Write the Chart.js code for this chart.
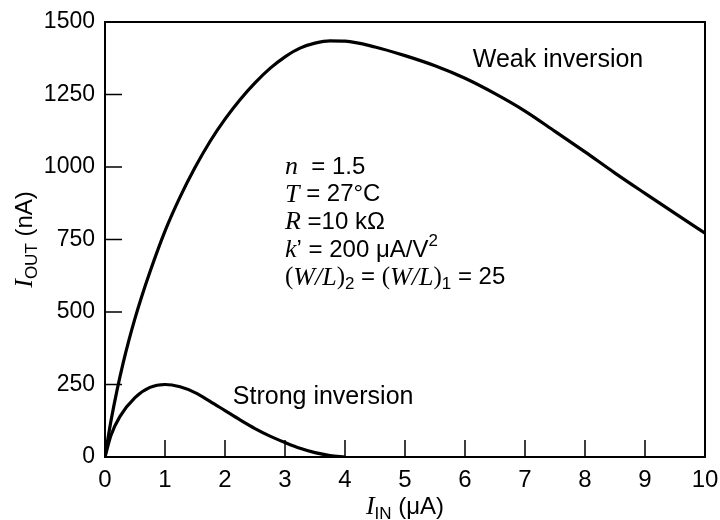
<!DOCTYPE html>
<html>
<head>
<meta charset="utf-8">
<script src="https://cdn.jsdelivr.net/npm/chart.js@4.4.1/dist/chart.umd.min.js"></script>
<style>
  html, body { margin: 0; padding: 0; background: #fff; }
  #wrap { width: 720px; height: 520px; }
</style>
</head>
<body>
<div id="wrap"><canvas id="chart" width="720" height="520"></canvas></div>
<script>
// --- data ---
const xTicks = [0, 1, 2, 3, 4, 5, 6, 7, 8, 9, 10];
const yTicks = [0, 250, 500, 750, 1000, 1250, 1500];

const weakX = [0, 0.05, 0.1, 0.2, 0.3, 0.4, 0.5, 0.6, 0.75, 1, 1.25, 1.5, 1.75, 2, 2.25, 2.5, 2.75,
               3, 3.25, 3.5, 3.75, 4, 4.5, 5, 5.5, 6, 6.5, 7, 7.5, 8, 8.5, 9, 9.5, 10];
const weakY = [0, 65, 125, 230, 322, 404, 478, 546, 639, 779, 896, 998, 1088, 1165, 1232, 1290, 1340,
               1380, 1410, 1427, 1435, 1434, 1414, 1384, 1349, 1306, 1253, 1193, 1123, 1052, 979, 909, 840, 772];

const strongX = [0, 0.1, 0.25, 0.5, 0.75, 1, 1.25, 1.5, 1.75, 2, 2.25, 2.5, 2.75, 3, 3.25, 3.5, 3.75, 4];
const strongY = [0, 75, 140, 205, 240, 250, 242, 222, 192, 160, 128, 98, 72, 50, 30, 15, 5, 0];

const SANS = '"Liberation Sans", Arial, sans-serif';
const SERIF = '"Liberation Serif", "Times New Roman", serif';

// rich text pieces: [text, font, baseline shift]
function drawRich(ctx, parts, x, y, align) {
    let total = 0;
    parts.forEach(p => { ctx.font = p[1]; total += ctx.measureText(p[0]).width; });
    let cx = align === 'center' ? x - total / 2 : x;
    ctx.textBaseline = 'middle';
    ctx.textAlign = 'left';
    parts.forEach(p => {
        ctx.font = p[1];
        ctx.fillText(p[0], cx, y + (p[2] || 0));
        cx += ctx.measureText(p[0]).width;
    });
}

const up = '25px ' + SERIF;
const itI = 'italic 26px ' + SERIF;
const sans = '24px ' + SANS;
const sub = '17px ' + SANS;

const frame = {
    id: 'frame',
    afterDraw(chart) {
        const { ctx, chartArea: a, scales: { x, y } } = chart;
        ctx.save();
        ctx.strokeStyle = '#000';
        ctx.fillStyle = '#000';
        ctx.lineWidth = 2;
        ctx.strokeRect(a.left, a.top, a.right - a.left, a.bottom - a.top);

        // inward tick marks
        ctx.lineWidth = 1.5;
        ctx.beginPath();
        xTicks.forEach(v => {
            const px = x.getPixelForValue(v);
            ctx.moveTo(px, a.bottom);
            ctx.lineTo(px, a.bottom - 17);
        });
        yTicks.forEach(v => {
            const py = y.getPixelForValue(v);
            ctx.moveTo(a.left, py);
            ctx.lineTo(a.left + 17, py);
        });
        ctx.stroke();

        // axis titles
        drawRich(ctx, [['I', itI], ['IN', sub, 7], [' (\u03bcA)', sans]],
            (a.left + a.right) / 2, 507, 'center');
        ctx.save();
        ctx.translate(25, (a.top + a.bottom) / 2);
        ctx.rotate(-Math.PI / 2);
        drawRich(ctx, [['I', itI], ['OUT', sub, 7], [' (nA)', sans]], 0, 0, 'center');
        ctx.restore();

        // curve labels
        drawRich(ctx, [['Weak inversion', '25px ' + SANS]],
            x.getPixelForValue(6.13), y.getPixelForValue(1369), 'left');
        drawRich(ctx, [['Strong inversion', '25px ' + SANS]],
            x.getPixelForValue(2.13), y.getPixelForValue(207), 'left');

        // parameter block
        const px = x.getPixelForValue(3.0);
        const py = y.getPixelForValue(1000);
        const lh = 27.7;
        const lines = [
            [['n', itI], ['  = 1.5', sans]],
            [['T', itI], [' = 27\u00b0C', sans]],
            [['R', itI], [' =10 k\u03a9', sans]],
            [['k', itI], ['\u2019 = 200 \u03bcA/V', sans], ['2', sub, -9]],
            [['(', up], ['W/L', itI], [')', up], ['2', sub, 7], [' = ', sans],
             ['(', up], ['W/L', itI], [')', up], ['1', sub, 7], [' = 25', sans]]
        ];
        lines.forEach((ln, i) => drawRich(ctx, ln, px, py + i * lh, 'left'));
        ctx.restore();
    }
};

const toPts = (xs, ys) => xs.map((v, i) => ({ x: v, y: ys[i] }));

new Chart(document.getElementById('chart'), {
    type: 'line',
    data: {
        datasets: [{
            label: 'Weak inversion',
            data: toPts(weakX, weakY),
            borderColor: '#000',
            borderWidth: 3.2,
            pointRadius: 0,
            cubicInterpolationMode: 'monotone'
        }, {
            label: 'Strong inversion',
            data: toPts(strongX, strongY),
            borderColor: '#000',
            borderWidth: 3.2,
            pointRadius: 0,
            cubicInterpolationMode: 'monotone'
        }]
    },
    options: {
        responsive: false,
        animation: false,
        devicePixelRatio: 1,
        layout: { padding: { top: 22, right: 15, left: 0, bottom: 0 } },
        plugins: {
            legend: { display: false },
            tooltip: { enabled: false }
        },
        scales: {
            x: {
                type: 'linear',
                min: 0, max: 10,
                afterFit(s) { s.height = 63; s.paddingLeft = 0; s.paddingRight = 0; },
                afterBuildTicks(s) { s.ticks = xTicks.map(v => ({ value: v })); },
                grid: { display: false, drawTicks: false },
                border: { display: false },
                ticks: {
                    color: '#000', padding: 9, maxRotation: 0,
                    font: { family: SANS, size: 24 },
                    callback: v => String(v)
                }
            },
            y: {
                min: 0, max: 1500,
                afterFit(s) { s.width = 105; s.paddingTop = 0; s.paddingBottom = 0; },
                afterBuildTicks(s) { s.ticks = yTicks.map(v => ({ value: v })); },
                grid: { display: false, drawTicks: false },
                border: { display: false },
                ticks: {
                    color: '#000', padding: 10,
                    font: { family: SANS, size: 23 },
                    callback: v => String(v)
                }
            }
        }
    },
    plugins: [frame]
});
</script>
</body>
</html>
